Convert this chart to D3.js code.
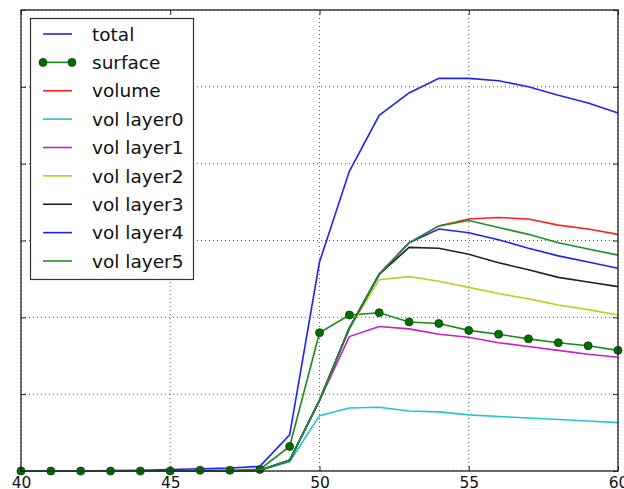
<!DOCTYPE html>
<meta charset="utf-8">
<style>
body { margin: 0; background: white; overflow: hidden; }
svg { font-family: "DejaVu Sans", sans-serif; display: block; }
</style>
<head>
  <script src="https://d3js.org/d3.v7.min.js"></script>
</head>
<body>
<div id="chart"></div>

<script>
// x steps
var steps = d3.range(40, 61);
var xTicks = [40, 45, 50, 55, 60];
var yTicks = [0, 1, 2, 3, 4, 5, 6];

// series values, one per step 40..60
var total   = [0, 0, 0, 0.005, 0.01, 0.02, 0.03, 0.04, 0.06, 0.47, 2.72, 3.90, 4.63, 4.92, 5.11, 5.11, 5.08, 5.00, 4.89, 4.79, 4.66];
var surface = [0, 0, 0, 0, 0, 0, 0.01, 0.01, 0.02, 0.32, 1.80, 2.03, 2.06, 1.94, 1.92, 1.83, 1.78, 1.72, 1.67, 1.63, 1.57];
var volume  = [0, 0, 0, 0, 0, 0, 0, 0, 0.01, 0.14, 0.92, 1.86, 2.56, 2.97, 3.19, 3.28, 3.30, 3.28, 3.20, 3.15, 3.08];
var layer0  = [0, 0, 0, 0, 0, 0, 0, 0, 0.01, 0.12, 0.72, 0.82, 0.83, 0.78, 0.77, 0.73, 0.71, 0.69, 0.67, 0.65, 0.63];
var layer1  = [0, 0, 0, 0, 0, 0, 0, 0, 0.01, 0.14, 0.92, 1.75, 1.88, 1.85, 1.78, 1.74, 1.67, 1.62, 1.57, 1.52, 1.48];
var layer2  = [0, 0, 0, 0, 0, 0, 0, 0, 0.01, 0.14, 0.92, 1.85, 2.49, 2.53, 2.47, 2.39, 2.31, 2.24, 2.16, 2.10, 2.03];
var layer3  = [0, 0, 0, 0, 0, 0, 0, 0, 0.01, 0.14, 0.92, 1.86, 2.56, 2.91, 2.90, 2.82, 2.71, 2.62, 2.52, 2.46, 2.40];
var layer4  = [0, 0, 0, 0, 0, 0, 0, 0, 0.01, 0.14, 0.92, 1.86, 2.56, 2.97, 3.15, 3.10, 3.01, 2.90, 2.80, 2.72, 2.64];
var layer5  = [0, 0, 0, 0, 0, 0, 0, 0, 0.01, 0.14, 0.92, 1.86, 2.56, 2.97, 3.19, 3.26, 3.17, 3.08, 2.97, 2.89, 2.81];

var names  = ["total", "surface", "volume", "vol layer0", "vol layer1", "vol layer2", "vol layer3", "vol layer4", "vol layer5"];
var colors = ["#2020ff", "#1a8a1a", "#ff2020", "#20c8c8", "#c820c8", "#c8c820", "#202020", "#2020ff", "#209020"];
var allSeries = [total, surface, volume, layer0, layer1, layer2, layer3, layer4, layer5];
</script>

<script>
var W = 624, H = 489;
// plot box (don't call it "top", window.top is taken)
var pLeft = 21, pRight = 618, pTop = 10, pBottom = 471;

var svg = d3.select("#chart").append("svg")
    .attr("width", W)
    .attr("height", H);

var x = d3.scaleLinear().domain([40, 60]).range([pLeft, pRight]);
var y = d3.scaleLinear().domain([0, 6]).range([pBottom, pTop]);

// dotted grid
var grid = svg.append("g");
grid.selectAll("line.vx").data(xTicks).enter().append("line")
    .attr("x1", d => x(d)).attr("x2", d => x(d))
    .attr("y1", pTop).attr("y2", pBottom)
    .attr("stroke", "#555").attr("stroke-width", 1).attr("stroke-dasharray", "1,3");
grid.selectAll("line.hy").data(yTicks).enter().append("line")
    .attr("x1", pLeft).attr("x2", pRight)
    .attr("y1", d => y(d)).attr("y2", d => y(d))
    .attr("stroke", "#555").attr("stroke-width", 1).attr("stroke-dasharray", "1,3");

// lines
var line = d3.line()
    .x((d, i) => x(steps[i]))
    .y(d => y(d));

allSeries.forEach(function(s, k) {
  svg.append("path")
    .datum(s)
    .attr("d", line)
    .attr("fill", "none")
    .attr("stroke", colors[k])
    .attr("stroke-width", 1.6);
  if (names[k] == "surface") {
    svg.selectAll(null).data(s).enter().append("circle")
      .attr("cx", (d, i) => x(steps[i]))
      .attr("cy", d => y(d))
      .attr("r", 4)
      .attr("fill", "#007000")
      .attr("stroke", "#004000")
      .attr("stroke-width", 0.8);
  }
});

// frame + inward ticks
svg.append("rect")
    .attr("x", pLeft).attr("y", pTop)
    .attr("width", pRight - pLeft).attr("height", pBottom - pTop)
    .attr("fill", "none").attr("stroke", "#222").attr("stroke-width", 1.3);

var xAxB = d3.axisBottom(x).tickValues(xTicks).tickSizeInner(-5).tickSizeOuter(0).tickPadding(5.5);
var gxb = svg.append("g").attr("transform", "translate(0," + pBottom + ")").call(xAxB);
gxb.select(".domain").remove();
gxb.selectAll("text").attr("font-size", 15.5).attr("fill", "#111").attr("font-family", "DejaVu Sans");

var xAxT = d3.axisTop(x).tickValues(xTicks).tickSizeInner(-5).tickSizeOuter(0).tickFormat("");
var gxt = svg.append("g").attr("transform", "translate(0," + pTop + ")").call(xAxT);
gxt.select(".domain").remove();

var yAxL = d3.axisLeft(y).tickValues(yTicks).tickSizeInner(-5).tickSizeOuter(0).tickFormat("");
var gyl = svg.append("g").attr("transform", "translate(" + pLeft + ",0)").call(yAxL);
gyl.select(".domain").remove();

var yAxR = d3.axisRight(y).tickValues(yTicks).tickSizeInner(-5).tickSizeOuter(0).tickFormat("");
var gyr = svg.append("g").attr("transform", "translate(" + pRight + ",0)").call(yAxR);
gyr.select(".domain").remove();

svg.selectAll(".tick line").attr("stroke", "#222");

// legend
var lg = svg.append("g");
lg.append("rect")
    .attr("x", 30.5).attr("y", 18.5)
    .attr("width", 163).attr("height", 261)
    .attr("fill", "white").attr("stroke", "#333").attr("stroke-width", 1.2);

var rowY = d3.scaleLinear().domain([0, 8]).range([34, 261]);
names.forEach(function(n, k) {
  var yy = rowY(k);
  lg.append("line")
    .attr("x1", 43).attr("x2", 72)
    .attr("y1", yy).attr("y2", yy)
    .attr("stroke", colors[k]).attr("stroke-width", 1.6);
  if (n == "surface") {
    [43, 72].forEach(function(px) {
      lg.append("circle").attr("cx", px).attr("cy", yy).attr("r", 4)
        .attr("fill", "#007000").attr("stroke", "#004000").attr("stroke-width", 0.8);
    });
  }
  lg.append("text")
    .attr("x", 92).attr("y", yy)
    .attr("dy", "0.36em")
    .attr("font-size", 18.5)
    .attr("fill", "#111")
    .text(n);
});
</script>
</body>
